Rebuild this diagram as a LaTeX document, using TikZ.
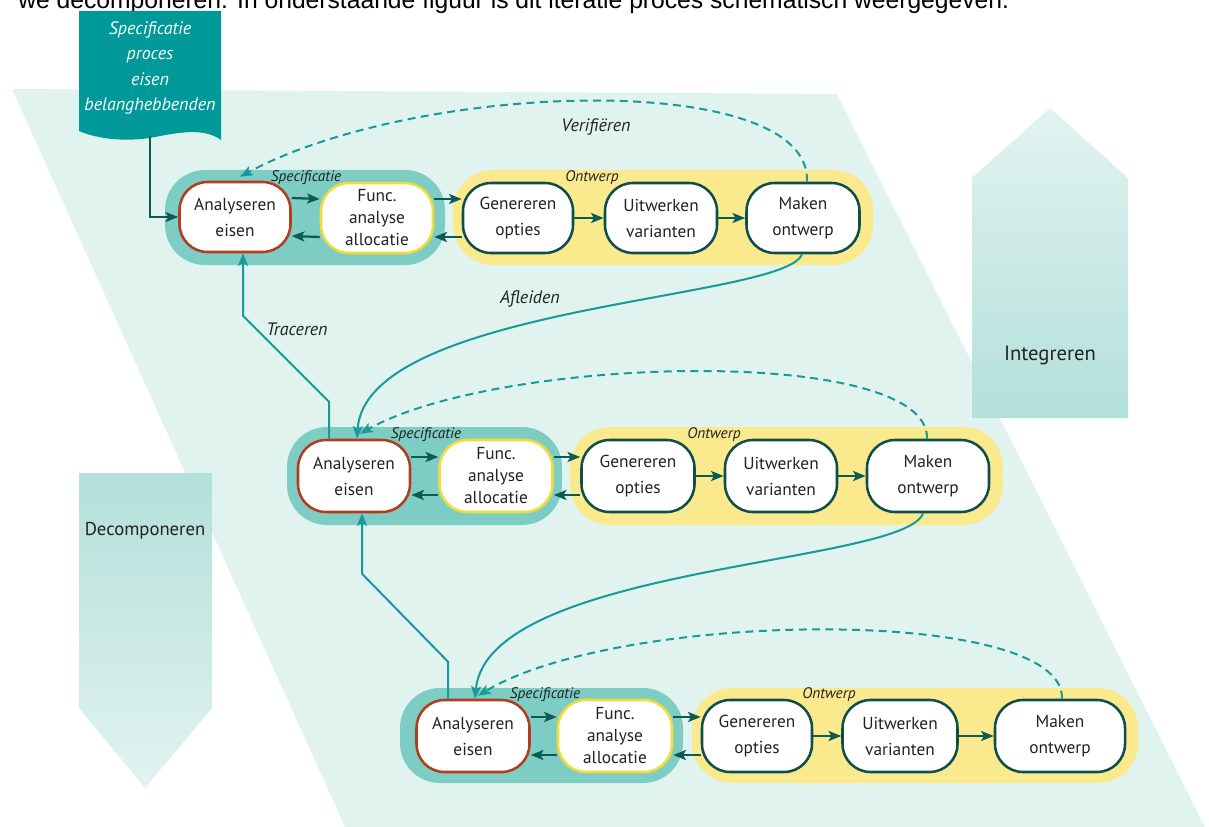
\documentclass[tikz,border=0pt]{standalone}
\usepackage{fontspec}
\setmainfont{PT Sans}
\newfontfamily\arialf{Liberation Sans}
\usetikzlibrary{arrows.meta,calc}
\definecolor{bgmint}{HTML}{E1F3EF}
\definecolor{specgrp}{HTML}{7DCDC4}
\definecolor{ontgrp}{HTML}{FBE98E}
\definecolor{redb}{HTML}{B43C1E}
\definecolor{yelb}{HTML}{F2DC3A}
\definecolor{darkteal}{HTML}{0E4F4A}
\definecolor{arrteal}{HTML}{0D5A55}
\definecolor{lineteal}{HTML}{179A9A}
\definecolor{docteal}{HTML}{009999}
\definecolor{txt}{HTML}{222222}
\definecolor{gradA}{HTML}{B3E0DA}
\definecolor{gradB}{HTML}{E2F3F0}
\begin{document}
\begin{tikzpicture}[x=0.75pt,y=-0.75pt,
  proc/.style={draw=darkteal, line width=1.9pt, fill=white, rounded corners=21pt,
    minimum height=52.5pt, text=txt, align=center, inner sep=0pt,
    font=\fontsize{13}{19.5}\selectfont},
  anal/.style={proc, draw=redb},
  func/.style={proc, draw=yelb, font=\fontsize{13}{16.5}\selectfont},
  grp/.style={rounded corners=30pt, inner sep=0pt, minimum height=71.25pt},
  specg/.style={grp, fill=specgrp},
  ontg/.style={grp, fill=ontgrp},
  grplbl/.style={font=\fontsize{11.5}{12}\selectfont\itshape, text=txt, inner sep=0pt},
  lbl/.style={font=\fontsize{13.5}{15}\selectfont\itshape, text=txt, inner sep=0pt},
  flow/.style={draw=arrteal, line width=1.7pt, -{Stealth[length=9.5pt,width=7.5pt,inset=2.2pt]}},
  link/.style={draw=lineteal, line width=1.5pt, -{Stealth[length=9.5pt,width=7.5pt,inset=2.2pt]}},
  verif/.style={link, dash pattern=on 6pt off 4pt},
  bigarrowtxt/.style={text=txt, inner sep=0pt}
]
\useasboundingbox (0,0) rectangle (1209,827);
% cut-off paragraph line at the top
\begin{scope}
\clip (0,0) rectangle (1209,827);
\node[anchor=base west, font=\arialf\fontsize{18.5}{20}\selectfont, inner sep=0pt] (para) at (18,9)
  {we decomponeren. In onderstaande figuur is dit iteratie proces schematisch weergegeven.};
\end{scope}
% background plane
\fill[bgmint] (12,89) -- (837,94) -- (1205,827) -- (345,827) -- cycle;
% big side arrows
\shade[top color=gradA, bottom color=gradB] (79,473) -- (212,473) -- (212,708) -- (145,788) -- (79,708) -- cycle;
\node[bigarrowtxt, font=\fontsize{14}{16}\selectfont] (dec) at (145,531) {Decomponeren};
\shade[top color=gradB, bottom color=gradA] (972,178) -- (1050,108) -- (1128,178) -- (1128,418) -- (972,418) -- cycle;
\node[bigarrowtxt, font=\fontsize{15.5}{17}\selectfont] (int) at (1050,355) {Integreren};
% document shape
\fill[docteal] (79,11) -- (221,11) -- (221,140) .. controls (205,128) and (180,132) .. (155,137)
  .. controls (130,142) and (100,140) .. (79,131) -- cycle;
\node[font=\fontsize{13.5}{19}\selectfont\itshape, text=white, align=center, inner sep=0pt] (doc) at (150,68)
  {Specificatie\\proces\\eisen\\belanghebbenden};
\coordinate (docb) at (150,136);
% groups
\node[specg, minimum width=210pt] (S1) at (305,217.5) {};
\node[ontg, minimum width=315pt] (O1) at (663,217.5) {};
\node[specg, minimum width=206.25pt, minimum height=73.5pt] (S2) at (424.5,476) {};
\node[ontg, minimum width=324.75pt, minimum height=73.5pt] (O2) at (786.5,476) {};
\node[specg, minimum width=212.25pt] (S3) at (541.5,735.5) {};
\node[ontg, minimum width=334.5pt] (O3) at (915,735.5) {};
\node[grplbl] (s1l) at (306,178) {Specificatie};
\node[grplbl] (o1l) at (592,178) {Ontwerp};
\node[grplbl] (s2l) at (426,435) {Specificatie};
\node[grplbl] (o2l) at (714,435) {Ontwerp};
\node[grplbl] (s3l) at (545,695) {Specificatie};
\node[grplbl] (o3l) at (829,695) {Ontwerp};
% level 1
\node[anal, minimum width=83.25pt] (A1) at (235,217) {Analyseren\\eisen};
\node[func, minimum width=84pt] (F1) at (377,218) {Func.\\analyse\\allocatie};
\node[proc, minimum width=82.5pt] (G1) at (518,218) {Genereren\\opties};
\node[proc, minimum width=84pt] (U1) at (661,218) {Uitwerken\\varianten};
\node[proc, minimum width=84.75pt] (M1) at (803,218) {Maken\\ontwerp};
% level 2
\node[anal, minimum width=84pt, minimum height=54pt] (A2) at (354,476) {Analyseren\\eisen};
\node[func, minimum width=84.75pt, minimum height=54pt] (F2) at (496,476) {Func.\\analyse\\allocatie};
\node[proc, minimum width=84.75pt, minimum height=54pt] (G2) at (638,476) {Genereren\\opties};
\node[proc, minimum width=84pt, minimum height=54pt] (U2) at (781,476) {Uitwerken\\varianten};
\node[proc, minimum width=91.5pt, minimum height=54pt] (M2) at (928,476) {Maken\\ontwerp};
% level 3
\node[anal, minimum width=84.75pt, minimum height=54pt] (A3) at (473,736) {Analyseren\\eisen};
\node[func, minimum width=85.5pt, minimum height=54pt] (F3) at (615,736) {Func.\\analyse\\allocatie};
\node[proc, minimum width=82.5pt, minimum height=54pt] (G3) at (757,736) {Genereren\\opties};
\node[proc, minimum width=86.25pt, minimum height=54pt] (U3) at (900,736) {Uitwerken\\varianten};
\node[proc, minimum width=97.5pt, minimum height=54pt] (M3) at (1060,736) {Maken\\ontwerp};
% flows inside levels
\foreach \l in {1,2,3}{
  \draw[flow] ($(A\l.east)+(0,-19)$) -- ($(F\l.west)+(0,-19)$);
  \draw[flow] ($(F\l.west)+(0,19)$) -- ($(A\l.east)+(0,19)$);
  \draw[flow] ($(F\l.east)+(0,-19)$) -- ($(G\l.west)+(0,-19)$);
  \draw[flow] ($(G\l.west)+(0,19)$) -- ($(F\l.east)+(0,19)$);
  \draw[flow] (G\l) -- (U\l);
  \draw[flow] (U\l) -- (M\l);
}
% input from document
\draw[flow] (docb) |- (A1.west);
% tracing
\draw[link] ($(A2.north)+(-25,0)$) -- ++(0,-37) -- ++(-86,-86) -- ($(A1.south)+(8,0)$);
\node[lbl] (trac) at (297,329) {Traceren};
\draw[link] ($(A3.north)+(-25,0)$) -- ++(0,-37) -- ++(-86,-88) -- ($(A2.south)+(8,0)$);
% derive
\draw[link] ($(M1.south)+(-1,0)$) .. controls (785,300) and (365,305) .. ($(A2.north)+(3,0)$);
\node[lbl] (afl) at (530,299) {Afleiden};
\draw[link] ($(M2.south)+(-5,0)$) .. controls (905,565) and (487,565) .. ($(A3.north)+(2,0)$);
% verify
\draw[verif] ($(M1.north)+(4,0)$) .. controls (812,70) and (420,80) .. ($(A1.north)+(5,-4)$);
\node[lbl] (ver) at (596,127) {Verifiëren};
\draw[verif] ($(M2.north)+(-1,0)$) .. controls (930,345) and (500,355) .. ($(A2.north)+(6,-5)$);
\draw[verif] ($(M3.north)+(2,0)$) .. controls (1065,605) and (620,610) .. ($(A3.north)+(5,-3)$);
\end{tikzpicture}
\end{document}
